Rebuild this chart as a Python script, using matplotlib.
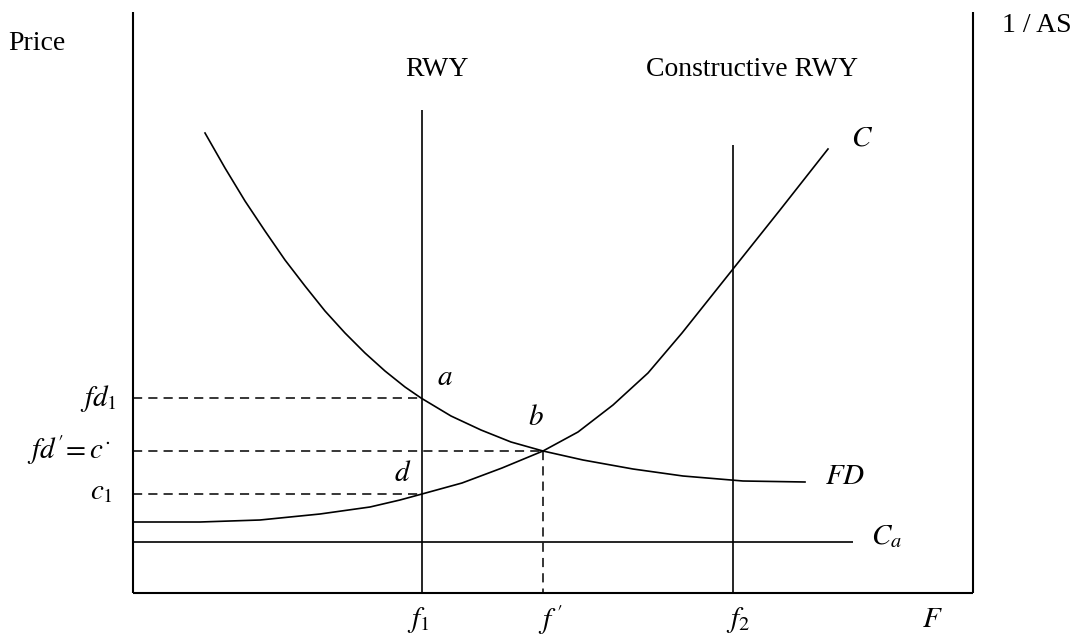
import matplotlib
matplotlib.use("Agg")
import matplotlib.pyplot as plt

plt.rcParams['mathtext.fontset'] = 'stix'
plt.rcParams['font.family'] = ['Liberation Serif', 'DejaVu Serif']

# diagram laid out in pixel space (x right, y down)
W, H = 1079, 637

# curves
fd_x = [205, 225, 245, 265, 285, 305, 325, 345, 365, 385, 405, 421,
        451, 481, 511, 543, 583, 633, 683, 743, 805]
fd_y = [133, 168, 201, 231, 260, 286, 311, 333, 353, 371, 387, 398,
        416, 430, 442, 451, 460, 469, 476, 481, 482]
c_x = [133, 200, 260, 320, 370, 400, 422, 462, 502, 543, 578, 613,
       648, 682, 733, 780, 828]
c_y = [522, 522, 520, 514, 507, 500, 494, 483, 468, 451, 432, 405,
       373, 333, 269, 210, 149]

# key levels / positions
x0, x_right, y_top, y_base = 133, 973, 12, 593
f1, f_eq, f2 = 422, 543, 733
fd1, fd_eq, c1, ca = 398, 451, 494, 542
rwy_top, crwy_top = 110, 145
ca_end = 853

fig = plt.figure(figsize=(W / 100, H / 100), dpi=100)
ax = fig.add_axes([0, 0, 1, 1])
ax.set_xlim(0, W)
ax.set_ylim(H, 0)
ax.axis('off')

k = dict(color='black', solid_capstyle='butt')
# frame
ax.plot([x0, x0], [y_top, y_base], lw=1.5, **k)
ax.plot([x_right, x_right], [y_top, y_base], lw=1.5, **k)
ax.plot([x0, x_right], [y_base, y_base], lw=1.5, **k)

# runway lines and Ca
ax.plot([f1, f1], [rwy_top, y_base], lw=1.2, **k)
ax.plot([f2, f2], [crwy_top, y_base], lw=1.2, **k)
ax.plot([x0, ca_end], [ca, ca], lw=1.2, **k)

# curves
ax.plot(fd_x, fd_y, lw=1.2, color='black', solid_joinstyle='round')
ax.plot(c_x, c_y, lw=1.2, color='black', solid_joinstyle='round')

# dashed guides
d = dict(color='black', lw=1.1, dashes=(6, 4))
ax.plot([x0, f1], [fd1, fd1], **d)
ax.plot([x0, f_eq], [fd_eq, fd_eq], **d)
ax.plot([x0, f1], [c1, c1], **d)
ax.plot([f_eq, f_eq], [fd_eq, y_base], **d)

fs = 20
ax.text(8, 43, 'Price', fontsize=fs, ha='left', va='center')
ax.text(1002, 25, '1 / AS', fontsize=fs, ha='left', va='center')
ax.text(437, 70, 'RWY', fontsize=fs, ha='center', va='center')
ax.text(752, 70, 'Constructive RWY', fontsize=fs, ha='center', va='center')

ms = 21
ax.text(862, 138, r'$C$', fontsize=ms, ha='center', va='center')
ax.text(845, 477, r'$FD$', fontsize=ms, ha='center', va='center')
ax.text(887, 537, r'$C_a$', fontsize=ms, ha='center', va='center')
ax.text(445, 378, r'$a$', fontsize=ms, ha='center', va='center')
ax.text(536, 418, r'$b$', fontsize=ms, ha='center', va='center')
ax.text(403, 474, r'$d$', fontsize=ms, ha='center', va='center')

ax.text(117, 398, r'$fd_{\mathit{1}}$', fontsize=ms, ha='right', va='center')
ax.text(110, 450, r"$fd'\!=c^{\cdot}$", fontsize=ms, ha='right', va='center')
ax.text(113, 492, r'$c_{\mathit{1}}$', fontsize=ms, ha='right', va='center')

ax.text(418, 620, r'$f_{\mathit{1}}$', fontsize=ms, ha='center', va='center')
ax.text(551, 620, r"$f\;'$", fontsize=ms, ha='center', va='center')
ax.text(738, 620, r'$f_{\mathit{2}}$', fontsize=ms, ha='center', va='center')
ax.text(932, 620, r'$F$', fontsize=ms, ha='center', va='center')

fig.savefig('out.png', dpi=100)
